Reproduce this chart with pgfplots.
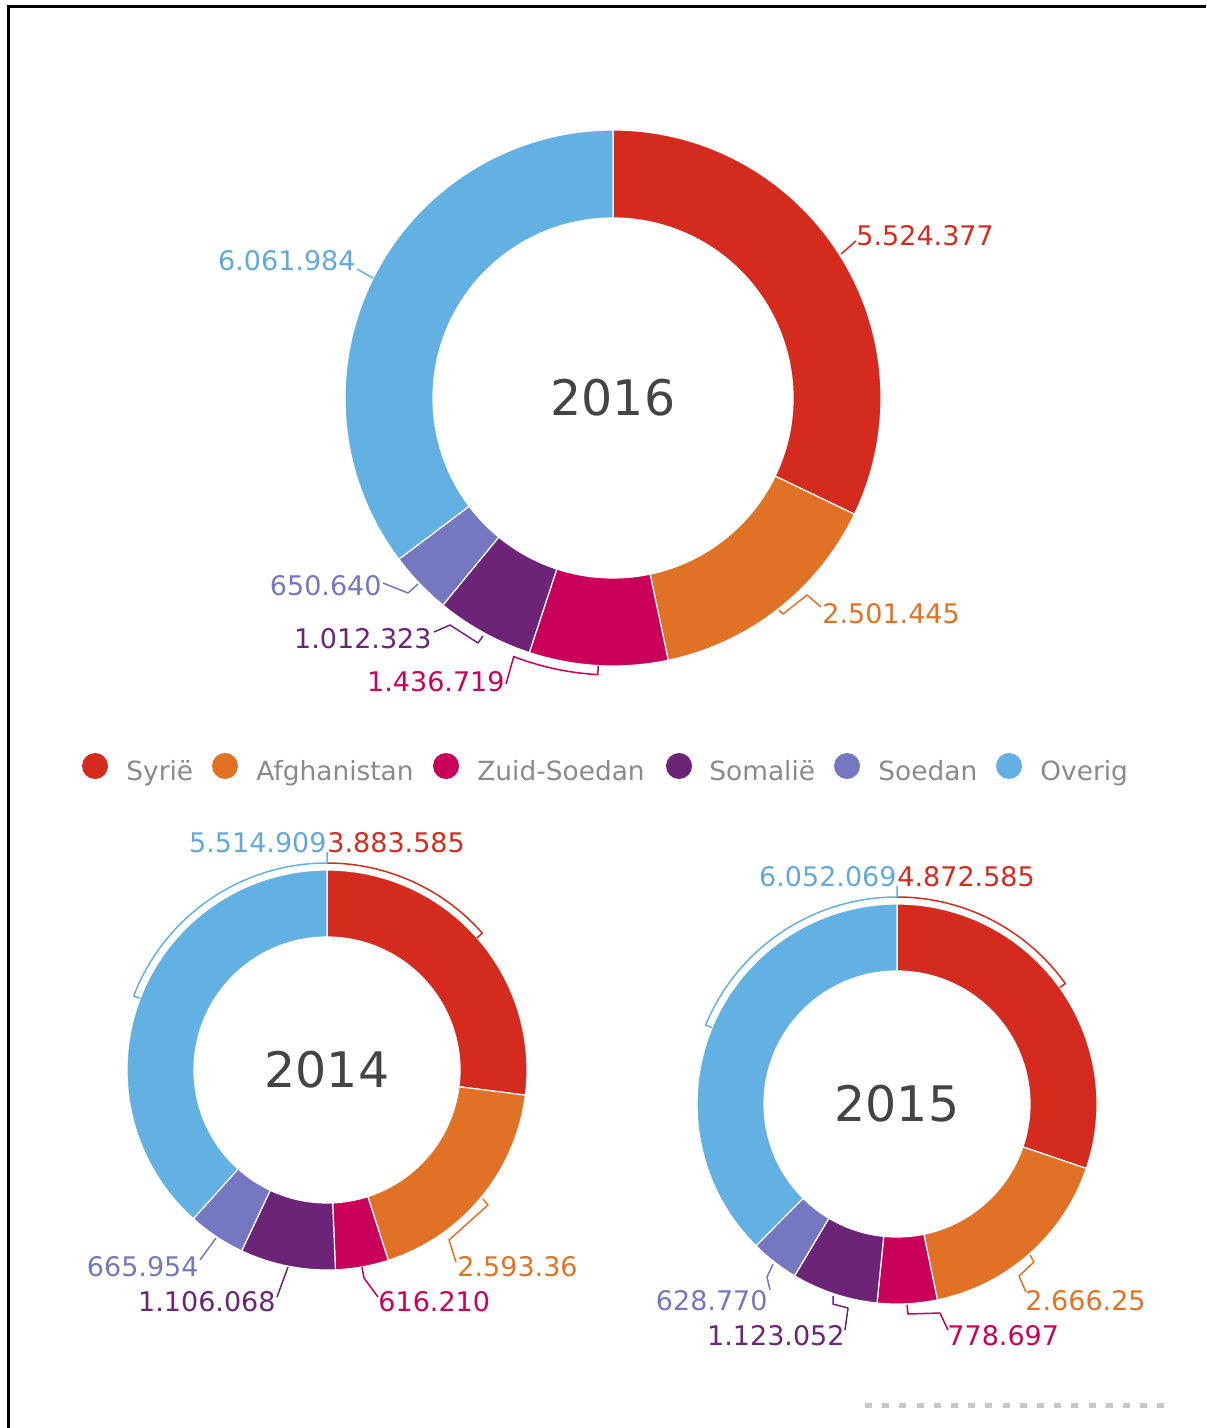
\documentclass[border=0pt]{standalone}
\usepackage{pgfplots}
\pgfplotsset{compat=1.18}
\usepackage{pgfplotstable}
\usetikzlibrary{calc}
\usepackage{fontspec}
\setmainfont{DejaVu Sans}

\definecolor{col0}{RGB}{213,43,30}
\definecolor{col1}{RGB}{225,114,37}
\definecolor{col2}{RGB}{200,0,90}
\definecolor{col3}{RGB}{108,36,118}
\definecolor{col4}{RGB}{117,119,192}
\definecolor{col5}{RGB}{99,176,227}
\definecolor{lblue}{RGB}{100,168,218}
\definecolor{legtext}{RGB}{138,138,138}
\definecolor{yeartext}{RGB}{68,68,68}

% 2016
\pgfplotstableread{
land value
Syrie 5524377
Afghanistan 2501445
ZuidSoedan 1436719
Somalie 1012323
Soedan 650640
Overig 6061984
}\tabA
% 2014
\pgfplotstableread{
land value
Syrie 3883585
Afghanistan 2593360
ZuidSoedan 616210
Somalie 1106068
Soedan 665954
Overig 5514909
}\tabB
% 2015
\pgfplotstableread{
land value
Syrie 4872585
Afghanistan 2666250
ZuidSoedan 778697
Somalie 1123052
Soedan 628770
Overig 6052069
}\tabC

\newcommand\donutangles[2]{%
  \def\tot{0}%
  \pgfplotsforeachungrouped \i in {0,...,5}{%
    \pgfplotstablegetelem{\i}{value}\of{#2}%
    \edef\tot{\fpeval{\tot+\pgfplotsretval}}%
  }%
  \def\cum{0}%
  \pgfplotsforeachungrouped \i in {0,...,5}{%
    \pgfplotstablegetelem{\i}{value}\of{#2}%
    \expandafter\xdef\csname #1s\i\endcsname{\fpeval{90-360*\cum/\tot}}%
    \edef\cum{\fpeval{\cum+\pgfplotsretval}}%
    \expandafter\xdef\csname #1e\i\endcsname{\fpeval{90-360*\cum/\tot}}%
    \expandafter\xdef\csname #1m\i\endcsname{\fpeval{90-360*(\cum-\pgfplotsretval/2)/\tot}}%
  }%
}
\donutangles{A}{\tabA}
\donutangles{B}{\tabB}
\donutangles{C}{\tabC}

\newcommand\ang[1]{\csname #1\endcsname}

% cx cy R r a1 a2 colour
\newcommand\slice[7]{%
  \filldraw[fill=#7, draw=white, line width=0.6pt, line join=round]
   ($(axis cs:#1,#2)+(#5:#3)$) arc[start angle=#5, end angle=#6, radius=#3]
   -- ($(axis cs:#1,#2)+(#6:#4)$) arc[start angle=#6, end angle=#5, radius=#4] -- cycle;}

\tikzset{ld/.style={line width=0.75pt, line join=round},
  val/.style={inner sep=0pt, font=\fontsize{13.5}{16}\selectfont},
  leg/.style={inner sep=0pt, anchor=base west, text=legtext, font=\fontsize{13.2}{16}\selectfont},
  yr/.style={inner sep=0pt, text=yeartext, font=\fontsize{24.5}{29}\selectfont}}

\begin{document}
\begin{tikzpicture}
\begin{axis}[name=ax, width=603pt, height=714pt, scale only axis,
  xmin=0, xmax=1206, ymin=0, ymax=1428, y dir=reverse, hide axis, clip=false]

% frame
\draw[black, line width=1.5pt] (axis cs:8,1428) -- (axis cs:8,6.5) -- (axis cs:1206,6.5);

% ---- 2016 ----
\pgfplotsinvokeforeach{0,...,5}{
  \slice{613}{398}{134pt}{90pt}{\ang{As#1}}{\ang{Ae#1}}{col#1}
}
\node[yr] at (axis cs:613,398) {2016};
\draw[col0, ld] (axis cs:841,254) -- (axis cs:856,241);
\node[val, anchor=west, text=col0] at (axis cs:856,236) {5.524.377};
\draw[col1, ld] (axis cs:779,610) -- (axis cs:783,614) -- (axis cs:807,595) -- (axis cs:821,607);
\node[val, anchor=west, text=col1] at (axis cs:822,614) {2.501.445};
\draw[col2, ld] ($(axis cs:613,398)+(\ang{Am2}:134pt)$) -- ($(axis cs:613,398)+(\ang{Am2}:138.5pt)$)
   arc[start angle=\ang{Am2}, end angle=-111, radius=138.5pt] -- (axis cs:506,684);
\node[val, anchor=east, text=col2] at (axis cs:505,682) {1.436.719};
\draw[col3, ld] (axis cs:483,636) -- (axis cs:478,643) -- (axis cs:450,625) -- (axis cs:434,632);
\node[val, anchor=east, text=col3] at (axis cs:432,639) {1.012.323};
\draw[col4, ld] (axis cs:418,584) -- (axis cs:408,593) -- (axis cs:383,583);
\node[val, anchor=east, text=col4] at (axis cs:382,586) {650.640};
\draw[col5, ld] (axis cs:373,278) -- (axis cs:357,269);
\node[val, anchor=east, text=lblue] at (axis cs:356,261) {6.061.984};

% ---- legend ----
\fill[col0] (axis cs:95,766) circle[radius=6.5pt];
\node[leg] at (axis cs:126,780) {Syrië};
\fill[col1] (axis cs:225,766) circle[radius=6.5pt];
\node[leg] at (axis cs:256,780) {Afghanistan};
\fill[col2] (axis cs:446,766) circle[radius=6.5pt];
\node[leg] at (axis cs:477,780) {Zuid-Soedan};
\fill[col3] (axis cs:679,766) circle[radius=6.5pt];
\node[leg] at (axis cs:709,780) {Somalië};
\fill[col4] (axis cs:847,766) circle[radius=6.5pt];
\node[leg] at (axis cs:878,780) {Soedan};
\fill[col5] (axis cs:1009,766) circle[radius=6.5pt];
\node[leg] at (axis cs:1040,780) {Overig};

% ---- 2014 ----
\pgfplotsinvokeforeach{0,...,5}{
  \slice{327}{1070}{100pt}{66.5pt}{\ang{Bs#1}}{\ang{Be#1}}{col#1}
}
\node[yr] at (axis cs:327,1070) {2014};
\draw[col0, ld] ($(axis cs:327,1070)+(90:103.5pt)$)
   arc[start angle=90, end angle=\ang{Bm0}, radius=103.5pt] -- ($(axis cs:327,1070)+(\ang{Bm0}:100pt)$);
\draw[col5, ld] ($(axis cs:327,1070)+(90:109pt)$) -- ($(axis cs:327,1070)+(90:103.5pt)$)
   arc[start angle=-270, end angle=\ang{Bm5}, radius=103.5pt] -- ($(axis cs:327,1070)+(\ang{Bm5}:100pt)$);
\node[val, anchor=east, text=lblue] at (axis cs:327,843) {5.514.909};
\node[val, anchor=west, text=col0] at (axis cs:327,843) {3.883.585};
\draw[col1, ld] (axis cs:483,1199) -- (axis cs:488,1205) -- (axis cs:449,1240) -- (axis cs:456,1262);
\node[val, anchor=west, text=col1] at (axis cs:457,1267) {2.593.36};
\draw[col2, ld] (axis cs:362,1267) -- (axis cs:364,1278) -- (axis cs:378,1297);
\node[val, anchor=west, text=col2] at (axis cs:378,1302) {616.210};
\draw[col3, ld] (axis cs:288,1267) -- (axis cs:277,1297);
\node[val, anchor=east, text=col3] at (axis cs:276,1302) {1.106.068};
\draw[col4, ld] (axis cs:216,1238) -- (axis cs:200,1260);
\node[val, anchor=east, text=col4] at (axis cs:199,1267) {665.954};

% ---- 2015 ----
\pgfplotsinvokeforeach{0,...,5}{
  \slice{897}{1104}{100pt}{66.5pt}{\ang{Cs#1}}{\ang{Ce#1}}{col#1}
}
\node[yr] at (axis cs:897,1104) {2015};
\draw[col0, ld] ($(axis cs:897,1104)+(90:103.5pt)$)
   arc[start angle=90, end angle=\ang{Cm0}, radius=103.5pt] -- ($(axis cs:897,1104)+(\ang{Cm0}:100pt)$);
\draw[col5, ld] ($(axis cs:897,1104)+(90:109pt)$) -- ($(axis cs:897,1104)+(90:103.5pt)$)
   arc[start angle=-270, end angle=\ang{Cm5}, radius=103.5pt] -- ($(axis cs:897,1104)+(\ang{Cm5}:100pt)$);
\node[val, anchor=east, text=lblue] at (axis cs:897,877) {6.052.069};
\node[val, anchor=west, text=col0] at (axis cs:897,877) {4.872.585};
\draw[col1, ld] (axis cs:1030,1255) -- (axis cs:1034,1262) -- (axis cs:1019,1276) -- (axis cs:1026,1292);
\node[val, anchor=west, text=col1] at (axis cs:1025,1301) {2.666.25};
\draw[col2, ld] (axis cs:907,1305) -- (axis cs:908,1314) -- (axis cs:940,1313) -- (axis cs:948,1330);
\node[val, anchor=west, text=col2] at (axis cs:947,1336) {778.697};
\draw[col3, ld] (axis cs:833,1296) -- (axis cs:833,1304) -- (axis cs:848,1308) -- (axis cs:845,1330);
\node[val, anchor=east, text=col3] at (axis cs:845,1336) {1.123.052};
\draw[col4, ld] (axis cs:773,1264) -- (axis cs:767,1277) -- (axis cs:770,1290);
\node[val, anchor=east, text=col4] at (axis cs:768,1301) {628.770};

% bottom-right faint dotted line
\draw[black!22, line width=2.5pt, dash pattern=on 3.5pt off 5.1pt] (axis cs:865,1405) -- (axis cs:1166,1405);
\end{axis}
\pgfresetboundingbox
\useasboundingbox (ax.south west) rectangle (ax.north east);
\end{tikzpicture}
\end{document}
